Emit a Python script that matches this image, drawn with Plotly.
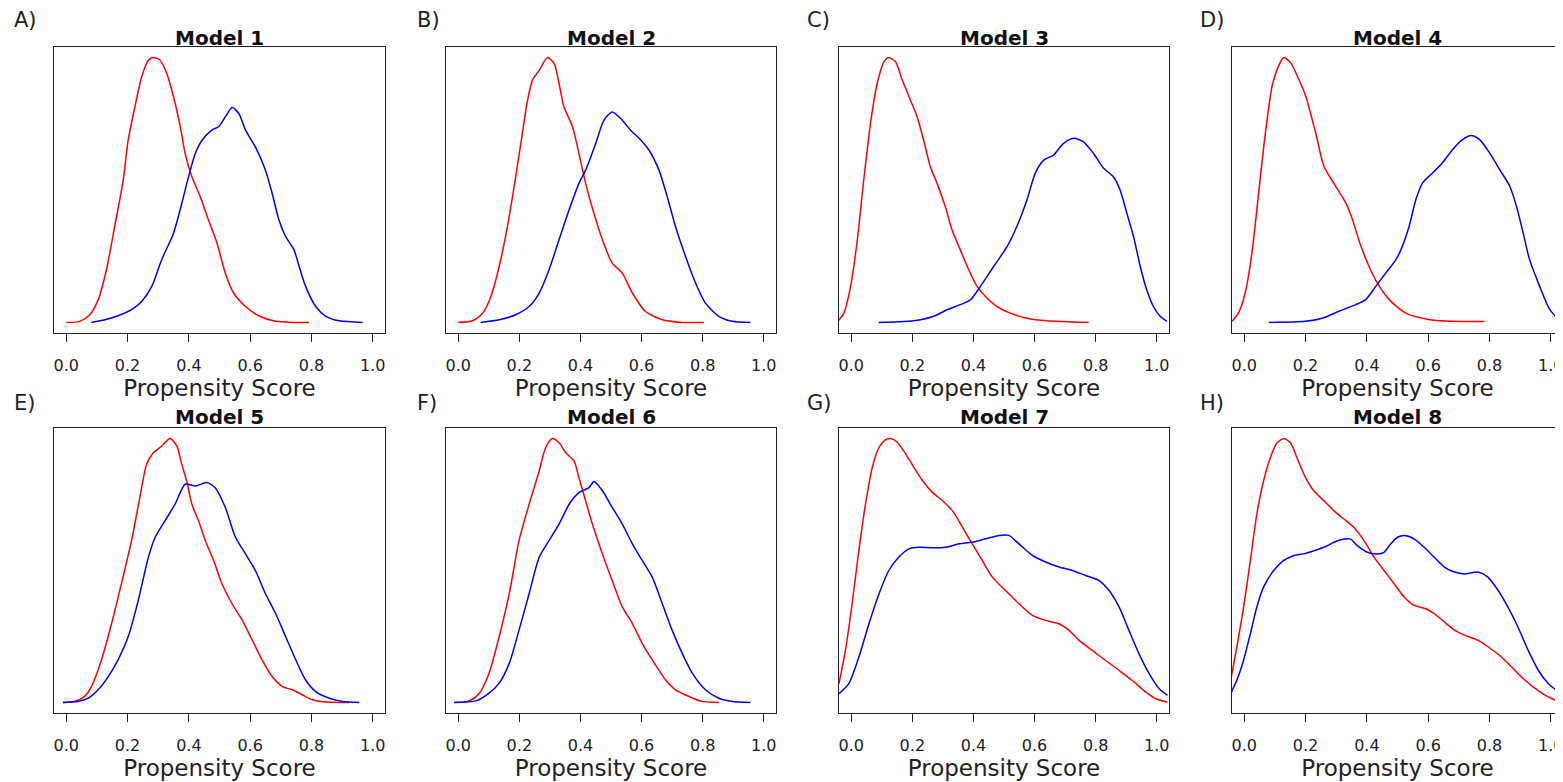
import plotly.graph_objects as go

# ---------------- data (normalised density, red peak = 1) ----------------
m1_red_x = [0.000, 0.044, 0.077, 0.104, 0.131, 0.158, 0.186, 0.202, 0.224, 0.246, 0.268, 0.284, 0.306, 0.328, 0.350, 0.372, 0.388, 0.410, 0.437, 0.464, 0.492, 0.519, 0.546, 0.585, 0.628, 0.683, 0.738, 0.792]
m1_red_y = [0.000, 0.004, 0.029, 0.085, 0.198, 0.362, 0.538, 0.688, 0.814, 0.927, 0.990, 1.000, 0.990, 0.940, 0.852, 0.739, 0.638, 0.550, 0.475, 0.387, 0.299, 0.186, 0.111, 0.060, 0.025, 0.004, 0.000, 0.000]
m1_blue_x = [0.082, 0.126, 0.169, 0.213, 0.246, 0.279, 0.311, 0.350, 0.377, 0.399, 0.421, 0.443, 0.475, 0.497, 0.519, 0.541, 0.563, 0.585, 0.617, 0.650, 0.672, 0.694, 0.716, 0.743, 0.760, 0.781, 0.814, 0.847, 0.891, 0.967]
m1_blue_y = [0.000, 0.010, 0.025, 0.048, 0.079, 0.136, 0.236, 0.337, 0.450, 0.550, 0.638, 0.688, 0.726, 0.739, 0.776, 0.812, 0.789, 0.726, 0.663, 0.575, 0.487, 0.387, 0.324, 0.274, 0.211, 0.136, 0.060, 0.023, 0.006, 0.000]

m2_red_x = [0.000, 0.047, 0.080, 0.107, 0.134, 0.161, 0.183, 0.205, 0.227, 0.243, 0.265, 0.292, 0.314, 0.330, 0.346, 0.374, 0.395, 0.417, 0.444, 0.472, 0.504, 0.537, 0.570, 0.613, 0.668, 0.722, 0.804]
m2_red_y = [0.000, 0.006, 0.035, 0.098, 0.211, 0.362, 0.513, 0.676, 0.839, 0.915, 0.952, 1.000, 0.977, 0.902, 0.814, 0.739, 0.638, 0.525, 0.412, 0.312, 0.224, 0.186, 0.111, 0.041, 0.010, 0.001, 0.000]
m2_blue_x = [0.074, 0.134, 0.188, 0.232, 0.265, 0.297, 0.330, 0.363, 0.395, 0.417, 0.450, 0.477, 0.504, 0.532, 0.564, 0.592, 0.624, 0.657, 0.684, 0.711, 0.744, 0.777, 0.809, 0.853, 0.897, 0.956]
m2_blue_y = [0.000, 0.010, 0.029, 0.060, 0.111, 0.198, 0.312, 0.425, 0.525, 0.575, 0.676, 0.764, 0.795, 0.770, 0.726, 0.695, 0.651, 0.575, 0.475, 0.362, 0.249, 0.148, 0.073, 0.023, 0.004, 0.000]

m3_red_x = [-0.044, -0.024, -0.002, 0.020, 0.041, 0.063, 0.085, 0.107, 0.123, 0.145, 0.167, 0.194, 0.216, 0.237, 0.259, 0.281, 0.308, 0.330, 0.357, 0.385, 0.412, 0.444, 0.477, 0.521, 0.575, 0.641, 0.777]
m3_red_y = [0.004, 0.035, 0.136, 0.312, 0.538, 0.751, 0.902, 0.984, 1.000, 0.984, 0.915, 0.839, 0.776, 0.688, 0.588, 0.525, 0.437, 0.349, 0.274, 0.198, 0.136, 0.092, 0.060, 0.035, 0.016, 0.006, 0.000]
m3_blue_x = [0.090, 0.172, 0.227, 0.270, 0.314, 0.357, 0.390, 0.423, 0.466, 0.510, 0.542, 0.575, 0.602, 0.630, 0.662, 0.695, 0.728, 0.760, 0.793, 0.826, 0.858, 0.880, 0.902, 0.924, 0.946, 0.967, 0.989, 1.011, 1.033]
m3_blue_y = [0.000, 0.003, 0.010, 0.023, 0.048, 0.067, 0.085, 0.136, 0.211, 0.286, 0.362, 0.462, 0.563, 0.613, 0.632, 0.676, 0.695, 0.682, 0.638, 0.582, 0.550, 0.500, 0.412, 0.324, 0.211, 0.123, 0.060, 0.023, 0.004]

m4_red_x = [-0.040, -0.019, 0.003, 0.025, 0.047, 0.069, 0.091, 0.112, 0.129, 0.151, 0.178, 0.200, 0.233, 0.260, 0.298, 0.331, 0.353, 0.380, 0.407, 0.434, 0.473, 0.527, 0.593, 0.658, 0.784]
m4_red_y = [0.004, 0.035, 0.111, 0.262, 0.489, 0.716, 0.893, 0.968, 1.000, 0.981, 0.918, 0.856, 0.716, 0.590, 0.515, 0.452, 0.389, 0.290, 0.212, 0.149, 0.086, 0.035, 0.013, 0.005, 0.003]
m4_blue_x = [0.080, 0.200, 0.254, 0.309, 0.364, 0.396, 0.429, 0.462, 0.495, 0.516, 0.538, 0.560, 0.582, 0.615, 0.647, 0.680, 0.713, 0.740, 0.767, 0.800, 0.833, 0.866, 0.888, 0.910, 0.931, 0.964, 0.997, 1.029]
m4_blue_y = [0.000, 0.004, 0.016, 0.042, 0.067, 0.086, 0.136, 0.187, 0.237, 0.288, 0.363, 0.464, 0.527, 0.565, 0.603, 0.653, 0.691, 0.706, 0.691, 0.641, 0.578, 0.515, 0.439, 0.338, 0.237, 0.136, 0.048, 0.008]

m5_red_x = [-0.011, 0.027, 0.060, 0.082, 0.115, 0.148, 0.180, 0.213, 0.240, 0.262, 0.284, 0.311, 0.339, 0.361, 0.377, 0.393, 0.410, 0.432, 0.454, 0.481, 0.508, 0.541, 0.574, 0.607, 0.639, 0.672, 0.705, 0.738, 0.770, 0.803, 0.836, 0.923]
m5_red_y = [0.000, 0.004, 0.023, 0.060, 0.161, 0.299, 0.450, 0.613, 0.776, 0.902, 0.946, 0.971, 1.000, 0.971, 0.902, 0.839, 0.751, 0.688, 0.613, 0.538, 0.450, 0.374, 0.312, 0.236, 0.161, 0.098, 0.060, 0.048, 0.029, 0.010, 0.003, 0.000]
m5_blue_x = [-0.011, 0.038, 0.071, 0.104, 0.137, 0.169, 0.202, 0.235, 0.268, 0.290, 0.322, 0.355, 0.388, 0.421, 0.459, 0.486, 0.519, 0.552, 0.585, 0.617, 0.650, 0.683, 0.716, 0.749, 0.781, 0.814, 0.858, 0.902, 0.956]
m5_blue_y = [0.000, 0.004, 0.016, 0.048, 0.098, 0.161, 0.249, 0.387, 0.550, 0.626, 0.688, 0.751, 0.827, 0.820, 0.833, 0.814, 0.739, 0.626, 0.563, 0.500, 0.412, 0.337, 0.249, 0.161, 0.085, 0.041, 0.016, 0.004, 0.000]

m6_red_x = [-0.013, 0.036, 0.069, 0.101, 0.134, 0.167, 0.199, 0.232, 0.265, 0.286, 0.308, 0.330, 0.352, 0.379, 0.395, 0.417, 0.439, 0.472, 0.504, 0.537, 0.570, 0.602, 0.635, 0.679, 0.711, 0.755, 0.798, 0.853]
m6_red_y = [0.000, 0.006, 0.035, 0.111, 0.249, 0.412, 0.613, 0.751, 0.877, 0.965, 1.000, 0.984, 0.946, 0.915, 0.852, 0.764, 0.676, 0.563, 0.462, 0.362, 0.299, 0.224, 0.161, 0.085, 0.048, 0.023, 0.004, 0.000]
m6_blue_x = [-0.013, 0.058, 0.101, 0.134, 0.167, 0.199, 0.232, 0.265, 0.297, 0.330, 0.363, 0.395, 0.428, 0.444, 0.472, 0.504, 0.537, 0.570, 0.602, 0.635, 0.668, 0.700, 0.733, 0.766, 0.809, 0.853, 0.897, 0.956]
m6_blue_y = [0.000, 0.006, 0.035, 0.073, 0.148, 0.274, 0.412, 0.550, 0.613, 0.676, 0.751, 0.795, 0.814, 0.837, 0.802, 0.739, 0.676, 0.601, 0.538, 0.475, 0.374, 0.274, 0.186, 0.111, 0.048, 0.016, 0.004, 0.000]

m7_red_x = [-0.040, -0.019, 0.003, 0.025, 0.047, 0.069, 0.091, 0.112, 0.129, 0.151, 0.178, 0.205, 0.233, 0.265, 0.298, 0.331, 0.364, 0.396, 0.429, 0.462, 0.505, 0.549, 0.593, 0.636, 0.680, 0.713, 0.746, 0.789, 0.833, 0.877, 0.920, 0.964, 0.997, 1.035]
m7_red_y = [0.071, 0.197, 0.374, 0.576, 0.753, 0.891, 0.967, 0.995, 1.000, 0.986, 0.942, 0.891, 0.841, 0.797, 0.765, 0.727, 0.664, 0.601, 0.538, 0.475, 0.424, 0.374, 0.330, 0.311, 0.298, 0.273, 0.235, 0.197, 0.159, 0.121, 0.083, 0.039, 0.014, 0.001]
m7_blue_x = [-0.040, -0.008, 0.025, 0.058, 0.091, 0.123, 0.156, 0.189, 0.222, 0.265, 0.309, 0.353, 0.396, 0.440, 0.484, 0.516, 0.549, 0.593, 0.636, 0.680, 0.724, 0.767, 0.811, 0.844, 0.877, 0.909, 0.942, 0.975, 1.008, 1.035]
m7_blue_y = [0.033, 0.071, 0.172, 0.298, 0.412, 0.500, 0.551, 0.582, 0.588, 0.586, 0.588, 0.601, 0.607, 0.620, 0.633, 0.633, 0.601, 0.557, 0.532, 0.513, 0.500, 0.481, 0.462, 0.424, 0.361, 0.273, 0.184, 0.109, 0.052, 0.027]

m8_red_x = [-0.044, -0.024, -0.002, 0.020, 0.041, 0.063, 0.085, 0.107, 0.129, 0.151, 0.172, 0.200, 0.227, 0.260, 0.293, 0.325, 0.358, 0.391, 0.424, 0.456, 0.489, 0.522, 0.555, 0.590, 0.620, 0.653, 0.686, 0.718, 0.762, 0.795, 0.838, 0.882, 0.915, 0.948, 0.980, 1.013, 1.037]
m8_red_y = [0.085, 0.211, 0.362, 0.538, 0.714, 0.839, 0.927, 0.984, 1.000, 0.984, 0.927, 0.852, 0.802, 0.764, 0.726, 0.695, 0.663, 0.613, 0.550, 0.500, 0.450, 0.399, 0.368, 0.356, 0.337, 0.305, 0.274, 0.255, 0.236, 0.211, 0.173, 0.123, 0.085, 0.054, 0.029, 0.010, 0.003]
m8_blue_x = [-0.044, -0.024, -0.002, 0.020, 0.041, 0.063, 0.096, 0.129, 0.162, 0.194, 0.227, 0.260, 0.293, 0.325, 0.347, 0.369, 0.402, 0.434, 0.456, 0.478, 0.500, 0.527, 0.555, 0.587, 0.620, 0.653, 0.686, 0.718, 0.762, 0.795, 0.828, 0.860, 0.893, 0.926, 0.959, 0.991, 1.024, 1.037]
m8_blue_y = [0.035, 0.085, 0.161, 0.261, 0.362, 0.437, 0.500, 0.538, 0.557, 0.563, 0.575, 0.588, 0.607, 0.619, 0.619, 0.594, 0.569, 0.563, 0.569, 0.601, 0.626, 0.632, 0.619, 0.588, 0.550, 0.513, 0.494, 0.487, 0.494, 0.475, 0.425, 0.362, 0.286, 0.198, 0.123, 0.073, 0.041, 0.029]

model_titles = ["Model 1", "Model 2", "Model 3", "Model 4", "Model 5", "Model 6", "Model 7", "Model 8"]
panel_labels = ["A)", "B)", "C)", "D)", "E)", "F)", "G)", "H)"]
tick_values = [0.0, 0.2, 0.4, 0.6, 0.8, 1.0]
tick_labels = ["0.0", "0.2", "0.4", "0.6", "0.8", "1.0"]
x_title = "Propensity Score"

red_series = [(m1_red_x, m1_red_y), (m2_red_x, m2_red_y), (m3_red_x, m3_red_y), (m4_red_x, m4_red_y),
              (m5_red_x, m5_red_y), (m6_red_x, m6_red_y), (m7_red_x, m7_red_y), (m8_red_x, m8_red_y)]
blue_series = [(m1_blue_x, m1_blue_y), (m2_blue_x, m2_blue_y), (m3_blue_x, m3_blue_y), (m4_blue_x, m4_blue_y),
               (m5_blue_x, m5_blue_y), (m6_blue_x, m6_blue_y), (m7_blue_x, m7_blue_y), (m8_blue_x, m8_blue_y)]

# ---------------- layout geometry (window pixels) ----------------
OFF = 8                    # page body margin of the html page
W, H = 1563 - OFF, 782 - OFF
col_left = [54, 446, 839, 1232]
col_right = [385, 776, 1169, 1563]
row_top = [47, 428]
row_bottom = [333, 713]
label_x = [12, 415, 805, 1198]
label_y = [20, 403]
title_y = [38, 417]


def px_x(v):
    return (v - OFF) / W


def px_y(v):
    return 1 - (v - OFF) / H


FONT = "DejaVu Sans, Liberation Sans, sans-serif"

fig = go.Figure()
layout = {}
annotations = []

for i in range(8):
    r, c = divmod(i, 4)
    sfx = "" if i == 0 else str(i + 1)
    rx, ry = red_series[i]
    bx, by = blue_series[i]
    fig.add_trace(go.Scatter(x=rx, y=ry, mode="lines",
                             line=dict(color="#ff0000", width=1.5, shape="spline", smoothing=0.7),
                             xaxis="x" + sfx, yaxis="y" + sfx, showlegend=False, hoverinfo="skip"))
    fig.add_trace(go.Scatter(x=bx, y=by, mode="lines",
                             line=dict(color="#0000ff", width=1.5, shape="spline", smoothing=0.7),
                             xaxis="x" + sfx, yaxis="y" + sfx, showlegend=False, hoverinfo="skip"))
    layout["xaxis" + sfx] = dict(
        domain=[px_x(col_left[c]), min(1.0, px_x(col_right[c]))], anchor="y" + sfx,
        range=[-0.04, 1.04], tickvals=tick_values, ticktext=tick_labels,
        ticks="outside", ticklen=8, tickwidth=1, tickcolor="#222",
        showline=True, linecolor="#222", linewidth=1.2, mirror=True,
        showgrid=False, zeroline=False, fixedrange=True, automargin=False,
        tickfont=dict(size=16, family=FONT, color="#222"),
        ticklabelstandoff=10, ticklabeloverflow="allow",
        title=dict(text=x_title, font=dict(size=23, family=FONT, color="#222"), standoff=1),
    )
    layout["yaxis" + sfx] = dict(
        domain=[px_y(row_bottom[r]), px_y(row_top[r])], anchor="x" + sfx,
        range=[-0.04, 1.04], showticklabels=False, ticks="",
        showline=True, linecolor="#222", linewidth=1.2, mirror=True,
        showgrid=False, zeroline=False, fixedrange=True, automargin=False,
    )
    annotations.append(dict(text="<b>" + model_titles[i] + "</b>", xref="paper", yref="paper",
                            x=px_x((col_left[c] + col_right[c]) / 2), y=px_y(title_y[r]),
                            xanchor="center", yanchor="middle", showarrow=False,
                            font=dict(size=20, family=FONT, color="#111")))
    annotations.append(dict(text=panel_labels[i], xref="paper", yref="paper",
                            x=px_x(label_x[c]), y=px_y(label_y[r]),
                            xanchor="left", yanchor="middle", showarrow=False,
                            font=dict(size=21, family=FONT, color="#222")))

fig.update_layout(
    width=W, height=H, margin=dict(l=0, r=0, t=0, b=0, autoexpand=False),
    paper_bgcolor="white", plot_bgcolor="white",
    annotations=annotations, **layout,
)

fig.write_html("out.html")
